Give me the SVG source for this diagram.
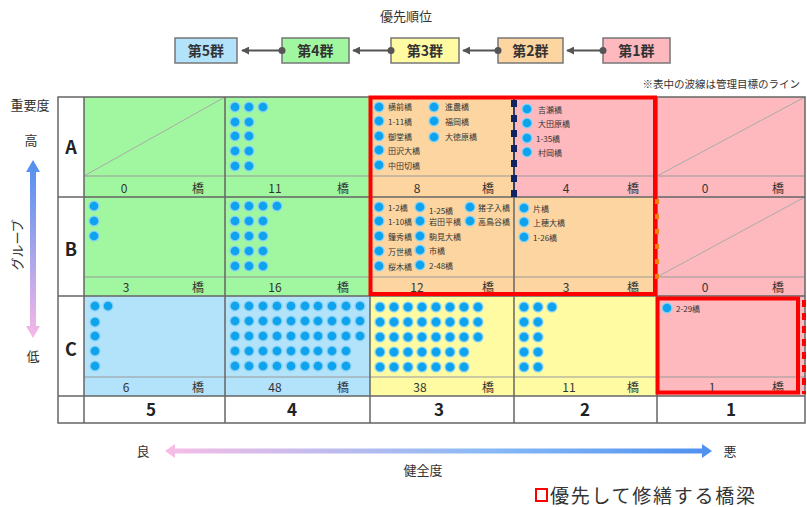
<svg xmlns="http://www.w3.org/2000/svg" xmlns:xlink="http://www.w3.org/1999/xlink" width="807" height="507" viewBox="0 0 807 507">
<style>
text{font-family:"Noto Sans CJK JP","Noto Sans",sans-serif;fill:#333}
.lab{font-size:13px}
.grp{font-size:14px;font-weight:bold;text-anchor:middle;fill:#333}
.box{stroke:#777;stroke-width:1.5}
.cnt{font-size:12px;text-anchor:middle;fill:#333}
.nm{font-size:8px;fill:#333}
.row{font-size:18px;font-weight:bold;text-anchor:middle;fill:#222}
.num{font-size:17px;font-weight:bold;text-anchor:middle;fill:#222}
.grid{stroke:#666;stroke-width:1.5;fill:none}
.sub{stroke:#999;stroke-width:1;fill:none}
.diag{stroke:#aaa;stroke-width:1}
.g{fill:#a0f7a0}.b{fill:#b3e2fb}.y{fill:#fffba3}.o{fill:#fdd5a0}.p{fill:#fdb9be}
.conn{stroke:#555;stroke-width:2;fill:none}
</style>
<defs>
<g id="d"><circle r="5.6" fill="#86d3f6"/><circle r="4.3" fill="#0fa3ee"/></g>
<marker id="ah" viewBox="0 0 10 10" refX="9" refY="5" markerWidth="4" markerHeight="4" orient="auto"><path d="M10,5 L0,0 L0,10 Z" fill="#555"/></marker>
<linearGradient id="vg" x1="0" y1="0" x2="0" y2="1"><stop offset="0" stop-color="#4f8ff0"/><stop offset="1" stop-color="#f7b8e8"/></linearGradient>
<linearGradient id="hg" x1="0" y1="0" x2="1" y2="0"><stop offset="0" stop-color="#f7bde6"/><stop offset="0.6" stop-color="#86b9f5"/><stop offset="1" stop-color="#4f8ff0"/></linearGradient>
</defs>

<text class="lab" x="406" y="21" text-anchor="middle">優先順位</text>

<g id="g5"><rect class="box b" x="175" y="38" width="62" height="25"/><text class="grp" x="206" y="56">第5群</text></g>
<g id="g4"><rect class="box g" x="282" y="38" width="67" height="25"/><text class="grp" x="315.5" y="56">第4群</text></g>
<g id="g3"><rect class="box y" x="391" y="38" width="68" height="25"/><text class="grp" x="425" y="56">第3群</text></g>
<g id="g2"><rect class="box o" x="498" y="38" width="65" height="25"/><text class="grp" x="530.5" y="56">第2群</text></g>
<g id="g1"><rect class="box p" x="603" y="38" width="67" height="25"/><text class="grp" x="636.5" y="56">第1群</text></g>

<g id="connectors">
<line class="conn" x1="282" y1="50.5" x2="242" y2="50.5" marker-end="url(#ah)"/><circle cx="282" cy="50.5" r="3.5" fill="#555"/>
<line class="conn" x1="391" y1="50.5" x2="353" y2="50.5" marker-end="url(#ah)"/><circle cx="391" cy="50.5" r="3.5" fill="#555"/>
<line class="conn" x1="498" y1="50.5" x2="463" y2="50.5" marker-end="url(#ah)"/><circle cx="498" cy="50.5" r="3.5" fill="#555"/>
<line class="conn" x1="603" y1="50.5" x2="567" y2="50.5" marker-end="url(#ah)"/><circle cx="603" cy="50.5" r="3.5" fill="#555"/>
</g>

<text x="800" y="88" text-anchor="end" style="font-size:10.5px">※表中の波線は管理目標のライン</text>

<g id="table">
<rect x="58" y="97" width="747" height="326" fill="#fff"/>
<rect class="g" x="84" y="97" width="141" height="100"/>
<rect class="g" x="225" y="97" width="145" height="100"/>
<rect class="o" x="370" y="97" width="144" height="100"/>
<rect class="p" x="514" y="97" width="143" height="100"/>
<rect class="p" x="657" y="97" width="148" height="100"/>
<rect class="g" x="84" y="197" width="141" height="99"/>
<rect class="g" x="225" y="197" width="145" height="99"/>
<rect class="o" x="370" y="197" width="144" height="99"/>
<rect class="o" x="514" y="197" width="143" height="99"/>
<rect class="p" x="657" y="197" width="148" height="99"/>
<rect class="b" x="84" y="296" width="141" height="100"/>
<rect class="b" x="225" y="296" width="145" height="100"/>
<rect class="y" x="370" y="296" width="144" height="100"/>
<rect class="y" x="514" y="296" width="143" height="100"/>
<rect class="p" x="657" y="296" width="148" height="100"/>

<line class="diag" x1="84" y1="176" x2="225" y2="97"/>
<line class="diag" x1="657" y1="176" x2="805" y2="97"/>
<line class="diag" x1="657" y1="277" x2="805" y2="197"/>

<path class="sub" d="M84,176H805M84,277H805M84,377H805"/>
<path class="grid" d="M58,97H805V423H58Z M84,97V423 M225,97V423 M370,97V423 M514,97V423 M657,97V423 M58,197H805 M58,296H805 M58,396H805"/>
</g>

<g id="counts">
<text class="cnt" x="124" y="193">0</text><text class="cnt" x="198" y="193">橋</text>
<text class="cnt" x="275" y="193">11</text><text class="cnt" x="343" y="193">橋</text>
<text class="cnt" x="417" y="193">8</text><text class="cnt" x="488" y="193">橋</text>
<text class="cnt" x="566" y="193">4</text><text class="cnt" x="633" y="193">橋</text>
<text class="cnt" x="705" y="193">0</text><text class="cnt" x="778" y="193">橋</text>
<text class="cnt" x="126" y="292">3</text><text class="cnt" x="198" y="292">橋</text>
<text class="cnt" x="275" y="292">16</text><text class="cnt" x="343" y="292">橋</text>
<text class="cnt" x="417" y="292">12</text><text class="cnt" x="488" y="292">橋</text>
<text class="cnt" x="566" y="292">3</text><text class="cnt" x="633" y="292">橋</text>
<text class="cnt" x="705" y="292">0</text><text class="cnt" x="778" y="292">橋</text>
<text class="cnt" x="126" y="392">6</text><text class="cnt" x="198" y="392">橋</text>
<text class="cnt" x="275" y="392">48</text><text class="cnt" x="343" y="392">橋</text>
<text class="cnt" x="420" y="392">38</text><text class="cnt" x="488" y="392">橋</text>
<text class="cnt" x="569" y="392">11</text><text class="cnt" x="633" y="392">橋</text>
<text class="cnt" x="712" y="392">1</text><text class="cnt" x="778" y="392">橋</text>
</g>

<g id="rowlabels">
<text class="row" x="71" y="154">A</text>
<text class="row" x="71" y="256">B</text>
<text class="row" x="71" y="356">C</text>
</g>
<g id="colnums">
<text class="num" x="151" y="416">5</text>
<text class="num" x="292" y="416">4</text>
<text class="num" x="439" y="416">3</text>
<text class="num" x="585" y="416">2</text>
<text class="num" x="731" y="416">1</text>
</g>

<g id="dots">
<use href="#d" x="235" y="107"/><use href="#d" x="249" y="107"/><use href="#d" x="263" y="107"/>
<use href="#d" x="235" y="122"/><use href="#d" x="249" y="122"/>
<use href="#d" x="235" y="136"/><use href="#d" x="249" y="136"/>
<use href="#d" x="235" y="151"/><use href="#d" x="249" y="151"/>
<use href="#d" x="235" y="166"/><use href="#d" x="249" y="166"/>
<use href="#d" x="94" y="206"/><use href="#d" x="94" y="221"/><use href="#d" x="94" y="236"/>
<use href="#d" x="235" y="206"/><use href="#d" x="249" y="206"/><use href="#d" x="263" y="206"/><use href="#d" x="277" y="206"/>
<use href="#d" x="235" y="221"/><use href="#d" x="249" y="221"/><use href="#d" x="263" y="221"/>
<use href="#d" x="235" y="236"/><use href="#d" x="249" y="236"/><use href="#d" x="263" y="236"/>
<use href="#d" x="235" y="251"/><use href="#d" x="249" y="251"/><use href="#d" x="263" y="251"/>
<use href="#d" x="235" y="266"/><use href="#d" x="249" y="266"/><use href="#d" x="263" y="266"/>
<use href="#d" x="95" y="306"/><use href="#d" x="108" y="306"/>
<use href="#d" x="95" y="322"/><use href="#d" x="95" y="336"/><use href="#d" x="95" y="351"/><use href="#d" x="95" y="366"/>
<g id="r10a"><use href="#d" x="235" y="306"/><use href="#d" x="249" y="306"/><use href="#d" x="263" y="306"/><use href="#d" x="277" y="306"/><use href="#d" x="291" y="306"/><use href="#d" x="305" y="306"/><use href="#d" x="318" y="306"/><use href="#d" x="332" y="306"/><use href="#d" x="346" y="306"/><use href="#d" x="360" y="306"/></g>
<use href="#r10a" y="15"/><use href="#r10a" y="30"/>
<g id="r9"><use href="#d" x="235" y="351"/><use href="#d" x="249" y="351"/><use href="#d" x="263" y="351"/><use href="#d" x="277" y="351"/><use href="#d" x="291" y="351"/><use href="#d" x="305" y="351"/><use href="#d" x="318" y="351"/><use href="#d" x="332" y="351"/><use href="#d" x="346" y="351"/></g>
<use href="#r9" y="15"/>
<g id="r8"><use href="#d" x="380" y="307"/><use href="#d" x="394" y="307"/><use href="#d" x="408" y="307"/><use href="#d" x="422" y="307"/><use href="#d" x="436" y="307"/><use href="#d" x="450" y="307"/><use href="#d" x="464" y="307"/><use href="#d" x="478" y="307"/></g>
<use href="#r8" y="15"/><use href="#r8" y="30"/>
<g id="r7"><use href="#d" x="380" y="352"/><use href="#d" x="394" y="352"/><use href="#d" x="408" y="352"/><use href="#d" x="422" y="352"/><use href="#d" x="436" y="352"/><use href="#d" x="450" y="352"/><use href="#d" x="464" y="352"/></g>
<use href="#r7" y="15"/>
<use href="#d" x="524" y="307"/><use href="#d" x="538" y="307"/><use href="#d" x="552" y="307"/>
<use href="#d" x="524" y="322"/><use href="#d" x="538" y="322"/>
<use href="#d" x="524" y="337"/><use href="#d" x="538" y="337"/>
<use href="#d" x="524" y="352"/><use href="#d" x="538" y="352"/>
<use href="#d" x="524" y="367"/><use href="#d" x="538" y="367"/>
<use href="#d" x="667" y="308"/><text class="nm" x="676" y="312">2-29橋</text>
</g>

<g id="namesA3">
<use href="#d" x="379" y="107"/><text class="nm" x="388" y="110">横前橋</text>
<use href="#d" x="379" y="121"/><text class="nm" x="388" y="125">1-11橋</text>
<use href="#d" x="379" y="136"/><text class="nm" x="388" y="140">御堂橋</text>
<use href="#d" x="379" y="150"/><text class="nm" x="388" y="154">田沢大橋</text>
<use href="#d" x="379" y="165"/><text class="nm" x="388" y="169">中田切橋</text>
<use href="#d" x="434" y="107"/><text class="nm" x="445" y="110">進農橋</text>
<use href="#d" x="434" y="121"/><text class="nm" x="445" y="125">福岡橋</text>
<use href="#d" x="434" y="137"/><text class="nm" x="445" y="140">大徳原橋</text>
</g>
<g id="namesA2">
<use href="#d" x="527" y="109"/><text class="nm" x="538" y="113">吉瀬橋</text>
<use href="#d" x="527" y="123"/><text class="nm" x="538" y="127">大田原橋</text>
<use href="#d" x="527" y="138"/><text class="nm" x="536" y="142">1-35橋</text>
<use href="#d" x="527" y="152"/><text class="nm" x="538" y="156">村岡橋</text>
</g>
<g id="namesB3">
<use href="#d" x="379" y="207"/><text class="nm" x="388" y="211">1-2橋</text>
<use href="#d" x="379" y="221"/><text class="nm" x="388" y="225">1-10橋</text>
<use href="#d" x="379" y="236"/><text class="nm" x="388" y="240">鐘秀橋</text>
<use href="#d" x="379" y="251"/><text class="nm" x="388" y="255">万世橋</text>
<use href="#d" x="379" y="266"/><text class="nm" x="388" y="270">桜木橋</text>
<use href="#d" x="420" y="207"/><text class="nm" x="429" y="214">1-25橋</text>
<use href="#d" x="420" y="221"/><text class="nm" x="429" y="225">岩田平橋</text>
<use href="#d" x="420" y="236"/><text class="nm" x="429" y="240">駒見大橋</text>
<use href="#d" x="420" y="250"/><text class="nm" x="429" y="254">市橋</text>
<use href="#d" x="420" y="265"/><text class="nm" x="429" y="269">2-48橋</text>
<use href="#d" x="470" y="207"/><text class="nm" x="478" y="211">猪子入橋</text>
<use href="#d" x="470" y="221"/><text class="nm" x="478" y="225">高鳥谷橋</text>
</g>
<g id="namesB2">
<use href="#d" x="524" y="208"/><text class="nm" x="533" y="212">片橋</text>
<use href="#d" x="524" y="222"/><text class="nm" x="533" y="226">上穂大橋</text>
<use href="#d" x="524" y="237"/><text class="nm" x="533" y="241">1-26橋</text>
</g>

<line x1="514" y1="97" x2="514" y2="197" stroke="#1a2a66" stroke-width="1.5"/>
<line x1="514" y1="100" x2="514" y2="197" stroke="#0f2460" stroke-width="6" stroke-dasharray="7 8"/>

<rect x="370.5" y="97.5" width="284.5" height="196.5" fill="none" stroke="#ff0000" stroke-width="4"/>
<rect x="657.5" y="298.5" width="140.5" height="94" fill="none" stroke="#ff0000" stroke-width="4"/>

<line x1="657" y1="199" x2="657" y2="281" stroke="#f07f10" stroke-width="4" stroke-dasharray="5 10"/>
<line x1="804" y1="300" x2="804" y2="394" stroke="#ff0000" stroke-width="4" stroke-dasharray="7 6"/>

<text class="lab" x="30" y="110" text-anchor="middle">重要度</text>
<text class="lab" x="31" y="145" text-anchor="middle">高</text>
<path d="M33,160 L40,172 L36,172 L36,326 L40,326 L33,338 L26,326 L30,326 L30,172 L26,172 Z" fill="url(#vg)"/>
<text class="lab" transform="translate(22,245) rotate(-90)" text-anchor="middle">グループ</text>
<text class="lab" x="33" y="361" text-anchor="middle">低</text>

<text class="lab" x="143" y="456" text-anchor="middle">良</text>
<path d="M165,451 L175,444 L175,448.5 L702,448.5 L702,444 L712,451 L702,458 L702,453.5 L175,453.5 L175,458 Z" fill="url(#hg)"/>
<text class="lab" x="730" y="456" text-anchor="middle">悪</text>
<text class="lab" x="423" y="475" text-anchor="middle">健全度</text>

<rect x="536" y="489" width="11" height="12" fill="none" stroke="#ff0000" stroke-width="2"/>
<text x="550" y="503" style="font-size:19px" textLength="205">優先して修繕する橋梁</text>
</svg>
